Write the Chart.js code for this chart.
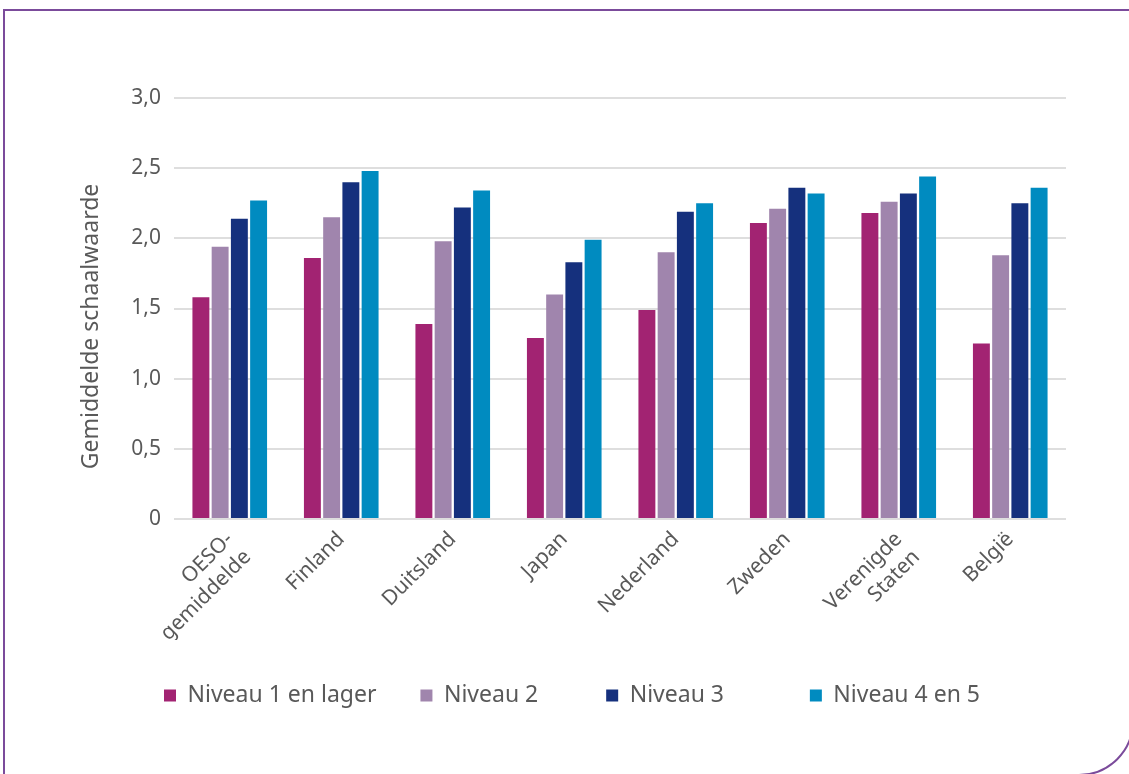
<!DOCTYPE html>
<html>
<head>
<meta charset="utf-8">
<script src="https://cdn.jsdelivr.net/npm/chart.js@4/dist/chart.umd.min.js"></script>
<style>
  html, body { margin:0; padding:0; background:#fff; overflow:hidden; }
  #kader {
    position:absolute; left:3px; top:9px; width:1131px; height:767px;
    border:2px solid #7b4b9b; border-bottom-right-radius:55px; box-sizing:border-box;
  }
  #wrap { position:absolute; left:0; top:0; width:1129px; height:774px; }
</style>
</head>
<body>
<div id="kader"></div>
<div id="wrap"><canvas id="grafiek" width="1129" height="774"></canvas></div>
<script>
// gemiddelde schaalwaarde per land en niveau
const landen = [['OESO-', 'gemiddelde'], 'Finland', 'Duitsland', 'Japan', 'Nederland', 'Zweden', ['Verenigde', 'Staten'], 'België'];
const niveau1 = [1.58, 1.86, 1.39, 1.29, 1.49, 2.11, 2.18, 1.25];
const niveau2 = [1.94, 2.15, 1.98, 1.60, 1.90, 2.21, 2.26, 1.88];
const niveau3 = [2.14, 2.40, 2.22, 1.83, 2.19, 2.36, 2.32, 2.25];
const niveau4 = [2.27, 2.48, 2.34, 1.99, 2.25, 2.32, 2.44, 2.36];
const reeksen = ['Niveau 1 en lager', 'Niveau 2', 'Niveau 3', 'Niveau 4 en 5'];
const kleuren = ['#a22372', '#a085ad', '#15307d', '#008bc0'];
const yTicks = [0, 0.5, 1.0, 1.5, 2.0, 2.5, 3.0];

const grijs = '#595959';
const font = "'Noto Sans', sans-serif";
const nb = n => '\u00a0'.repeat(n);
// extra ruimte achter legendalabels, zoals in het origineel
const legendaExtra = [0, 4, 7, 0];

const ds = [niveau1, niveau2, niveau3, niveau4].map((d, i) => ({
  label: reeksen[i],
  data: d,
  backgroundColor: kleuren[i],
  borderWidth: 0,
  categoryPercentage: 0.69,
  barPercentage: 0.88
}));

new Chart(document.getElementById('grafiek'), {
  type: 'bar',
  data: { labels: landen, datasets: ds },
  options: {
    responsive: false,
    animation: false,
    layout: { padding: { left: 78, right: 63, top: 98, bottom: 57 } },
    plugins: {
      tooltip: { enabled: false },
      legend: {
        position: 'bottom',
        labels: {
          color: grijs,
          font: { family: font, size: 23 },
          boxWidth: 12, boxHeight: 12,
          padding: 44,
          generateLabels: chart => Chart.defaults.plugins.legend.labels.generateLabels(chart)
            .map((l, i) => ({ ...l, text: l.text + nb(legendaExtra[i]) }))
        }
      }
    },
    scales: {
      x: {
        grid: { display: false, drawTicks: false },
        border: { display: false },
        ticks: {
          color: grijs, font: { family: font, size: 21 },
          minRotation: 45, maxRotation: 45, padding: 8
        },
        afterFit: s => { s.height = 121; }
      },
      y: {
        min: 0, max: 3,
        afterBuildTicks: s => { s.ticks = yTicks.map(v => ({ value: v })); },
        grid: { color: '#dedede', lineWidth: 2, drawTicks: false },
        border: { display: false },
        ticks: {
          color: grijs, font: { family: font, size: 21 }, padding: 13,
          callback: v => v === 0 ? '0' : v.toFixed(1).replace('.', ',')
        },
        title: {
          display: true, text: 'Gemiddelde schaalwaarde' + nb(6),
          color: grijs, font: { family: font, size: 23 }, padding: { top: 0, bottom: 0 }
        },
        afterFit: s => { s.width = 96; }
      }
    }
  }
});
</script>
</body>
</html>
